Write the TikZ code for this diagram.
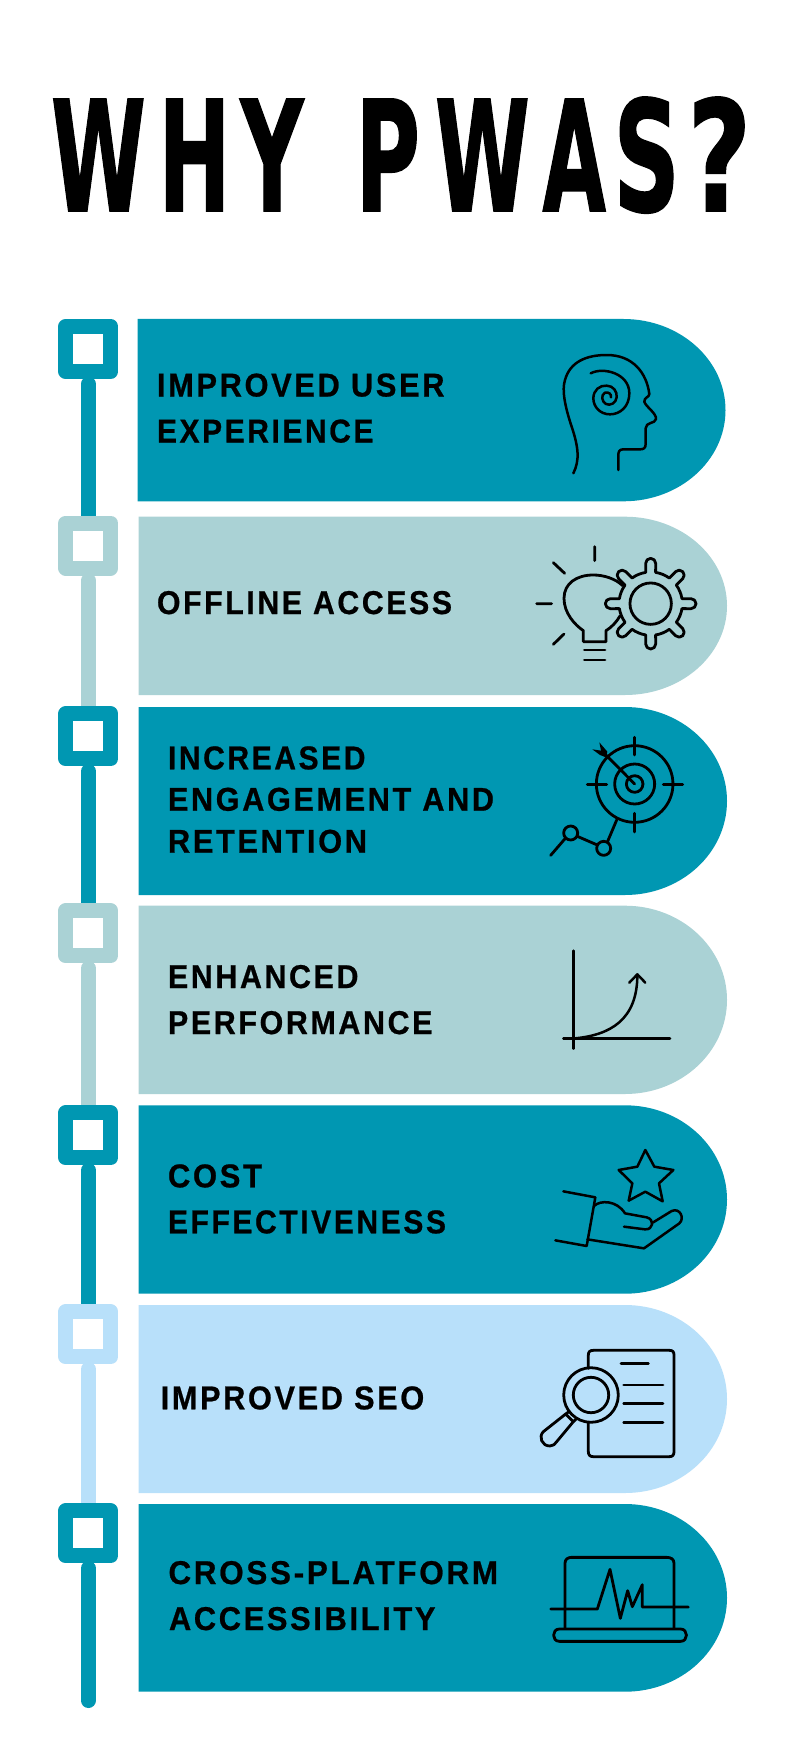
\documentclass[tikz,border=0pt]{standalone}
\usepackage{fontspec}
\usetikzlibrary{backgrounds}
\newfontfamily\titlefont[FakeBold=1.2]{DejaVu Sans}
\newfontfamily\lblfont[LetterSpace=8,FakeStretch=0.92,FakeBold=0.7]{Liberation Sans}
\definecolor{teal}{HTML}{0097B2}
\definecolor{pale}{HTML}{AAD2D5}
\definecolor{sky}{HTML}{B8E0FA}
\newcommand\tl[3]{\makebox[0pt][l]{\kern#1pt\scalebox{#2}[1.536]{#3}}}
\newcommand\panel[5]{%
  \pgfmathsetmacro\ry{(#4-#3)/2}
  \fill[#1] (#2,#3) -- (#5-102,#3) arc[start angle=90,end angle=-90,x radius=102pt,y radius=\ry pt] -- (#2,#4) -- cycle;}
\newcommand\lbl[5]{\node[lbl] (#1) at (#2,#3) {\resizebox{#4pt}{\height}{#5}};}
\newcommand\gearsector{%
  \draw[gearline] (-22.5:95pt) arc[start angle=-22.5,end angle=-9,radius=95pt] -- (121pt,-15pt)
    arc[start angle=-90,end angle=90,radius=15pt] -- (9:95pt) arc[start angle=9,end angle=22.5,radius=95pt];}
\tikzset{
  marker/.style={draw=#1,fill=white,line width=15pt,line join=round,minimum size=45pt,inner sep=0pt,shape=rectangle},
  stemline/.style={draw=#1,line width=15pt,line cap=round},
  lbl/.style={anchor=base west,inner sep=0pt,outer sep=0pt,text=black,font=\lblfont\bfseries\fontsize{33pt}{33pt}\selectfont},
  icon/.style={draw=black,line width=2.5pt,line cap=round,line join=round},
  iconb/.style={draw=black,line width=2.8pt,line cap=round,line join=round},
  gearline/.style={draw=black,line width=2.8pt,line cap=round,line join=round},
  zoomgrid/.style={x=0.33333pt,y=-0.33333pt},
}
\begin{document}
\begin{tikzpicture}[x=1pt,y=-1pt]
\useasboundingbox (0,0) rectangle (800,1760);
% title
\node[inner sep=0pt,outer sep=0pt,anchor=base west] (title) at (0,211) {\titlefont\bfseries\fontsize{100pt}{100pt}\selectfont
  \tl{50.5}{.86}{W}\tl{158}{.86}{H}\tl{240}{.87}{Y}\makebox[0pt]{ }\tl{355}{.88}{P}\tl{434.5}{.86}{W}\tl{542}{.82}{A}\tl{613}{.92}{S}\tl{687}{1.1}{?}};
% panels
\panel{teal}{137.7}{319}{501.3}{725.5}
\panel{pale}{138.5}{516.7}{695}{727}
\panel{teal}{138.7}{707}{895}{727}
\panel{pale}{138.7}{905.7}{1094}{727}
\panel{teal}{138.7}{1105.3}{1293.7}{727}
\panel{sky}{138.7}{1305}{1493}{727}
\panel{teal}{138.7}{1504}{1691.7}{727}
% markers
\node[marker=teal] (b1) at (88.3,349) {};
\node[marker=pale] (b2) at (88.3,545.5) {};
\node[marker=teal] (b3) at (88.3,736.3) {};
\node[marker=pale] (b4) at (88.3,933.3) {};
\node[marker=teal] (b5) at (88.3,1135.3) {};
\node[marker=sky] (b6) at (88.3,1334.3) {};
\node[marker=teal] (b7) at (88.3,1533.3) {};
\coordinate (stemend) at (88.3,1700.5);
\begin{scope}[on background layer]
  \fill[white] (0,0) rectangle (800,1760);
  \draw[stemline=teal] ([yshift=-5pt]b1.south) -- (b2.north);
  \draw[stemline=pale] ([yshift=-5pt]b2.south) -- (b3.north);
  \draw[stemline=teal] ([yshift=-5pt]b3.south) -- (b4.north);
  \draw[stemline=pale] ([yshift=-5pt]b4.south) -- (b5.north);
  \draw[stemline=teal] ([yshift=-5pt]b5.south) -- (b6.north);
  \draw[stemline=sky] ([yshift=-5pt]b6.south) -- (b7.north);
  \draw[stemline=teal] ([yshift=-5pt]b7.south) -- (stemend);
\end{scope}
% labels
\lbl{t1a}{157}{396.5}{287.5}{IMPROVED USER}
\lbl{t1b}{157}{442.5}{216.5}{EXPERIENCE}
\lbl{t2}{157}{614}{295}{OFFLINE ACCESS}
\lbl{t3a}{168}{769.3}{197.5}{INCREASED}
\lbl{t3b}{168}{810.7}{326}{ENGAGEMENT AND}
\lbl{t3c}{168}{852.7}{199}{RETENTION}
\lbl{t4a}{168}{988}{190.5}{ENHANCED}
\lbl{t4b}{168}{1034}{264.5}{PERFORMANCE}
\lbl{t5a}{168}{1187.3}{94}{COST}
\lbl{t5b}{168}{1233.3}{278}{EFFECTIVENESS}
\lbl{t6}{160.7}{1409.3}{263.5}{IMPROVED SEO}
\lbl{t7a}{168.5}{1584}{329.5}{CROSS-PLATFORM}
\lbl{t7b}{169}{1630}{266.5}{ACCESSIBILITY}
% head + bulb/gear icons
\begin{scope}[shift={(500,320)},zoomgrid]
  \draw[icon] (220,460) .. controls (240,420) and (235,380) .. (215,320) .. controls (195,260) and (185,210) .. (195,180) .. controls (210,125) and (260,105) .. (320,105) .. controls (400,105) and (440,160) .. (448,222) .. controls (448,232) and (432,232) .. (433,245) .. controls (437,260) and (470,280) .. (468,297) .. controls (466,312) and (437,305) .. (437,325) -- (437,372) .. controls (437,385) and (430,388) .. (420,388) -- (370,388) .. controls (358,388) and (355,395) .. (355,405) -- (355,450);
  \draw[icon] (272,160) .. controls (310,140) and (388,160) .. (388,220) .. controls (388,260) and (360,283) .. (330,283) .. controls (300,283) and (280,260) .. (280,235) .. controls (280,210) and (300,195) .. (320,197) .. controls (340,197) and (352,215) .. (350,232) .. controls (348,250) and (330,258) .. (318,252) .. controls (305,245) and (302,225) .. (315,218) .. controls (325,215) and (335,222) .. (333,232);
  \draw[iconb] (284,680) -- (284,722) (160,728) -- (194,760) (110,851) -- (155,851) (160,973) -- (192,942);
  \draw[iconb] (368,797) .. controls (345,775) and (310,765) .. (280,765) .. controls (230,765) and (192,790) .. (192,835) .. controls (192,880) and (225,915) .. (250,932) -- (250,965) -- (318,965) -- (318,932) .. controls (335,922) and (350,905) .. (360,888);
  \draw[iconb] (253,990) -- (315,990) (253,1020) -- (315,1020);
  \draw[iconb] (452,851) circle[radius=20.7pt];
\end{scope}
\begin{scope}[shift={(650.67,603.67)},x=1pt,y=1pt,scale=0.33333]
  \foreach \a in {0,45,...,315}{\begin{scope}[rotate=\a]\gearsector\end{scope}}
\end{scope}
% target + chart icons
\begin{scope}[shift={(500,710)},zoomgrid]
  \draw[iconb] (404,222) circle[radius=38.3pt] (404,222) circle[radius=20pt] (404,222) circle[radius=8.3pt];
  \draw[iconb] (404,82) -- (404,135) (404,310) -- (404,366) (262,224) -- (320,224) (490,224) -- (548,224);
  \draw[iconb] (404,222) -- (318,135);
  \fill (298,97) -- (322,125) -- (318,142) -- (300,135) -- (277,118) -- (303,122) -- cycle;
  \draw[iconb] (152,436) -- (196,385) (232,379) -- (292,405) (323,394) -- (350,330);
  \draw[iconb] (212,369) circle[radius=7pt] (311,415) circle[radius=7pt];
  \draw[icon] (220,722) -- (220,1016) (190,985) -- (510,985);
  \draw[icon] (225,985) .. controls (330,975) and (412,930) .. (412,795);
  \draw[icon] (388,818) -- (412,793) -- (436,818);
\end{scope}
% hand + magnifier icons
\begin{scope}[shift={(500,1120)},zoomgrid]
  \draw[icon] (436,90) -- (463,140) -- (520,150) -- (477,190) -- (488,244) -- (436,215) -- (386,242) -- (397,190) -- (356,150) -- (412,140) -- cycle;
  \draw[icon] (190,214) -- (286,232) -- (260,378) -- (166,361);
  \draw[icon] (262,358) -- (432,385) -- (538,310) .. controls (555,295) and (540,262) .. (515,273) -- (458,308);
  \draw[icon] (282,258) .. controls (300,240) and (350,240) .. (375,280) -- (440,292) .. controls (465,298) and (460,330) .. (435,328) -- (372,320);
  \draw[iconb] (265,745) -- (265,705) .. controls (265,695) and (270,691) .. (280,691) -- (508,691) .. controls (518,691) and (522,695) .. (522,705) -- (522,995) .. controls (522,1005) and (518,1010) .. (508,1010) -- (280,1010) .. controls (270,1010) and (265,1005) .. (265,995) -- (265,908);
  \draw[iconb] (363,731) -- (445,731) (371,795) -- (489,795) (371,851) -- (489,851) (371,907) -- (489,907);
  \draw[iconb] (273,825) circle[radius=27.3pt] (273,825) circle[radius=17.7pt];
  \draw[iconb] (197,882) -- (130,935) .. controls (115,950) and (125,978) .. (150,978) .. controls (160,978) and (165,972) .. (170,965) -- (220,905) -- cycle;
  \draw[iconb] (207,875) -- (197,882) (228,897) -- (220,905);
\end{scope}
% laptop icon
\begin{scope}[shift={(500,1480)},zoomgrid]
  \draw[iconb] (195,445) -- (195,250) .. controls (195,238) and (203,232) .. (215,232) -- (500,232) .. controls (514,232) and (522,238) .. (522,250) -- (522,445);
  \draw[iconb] (178,447) -- (542,447) .. controls (565,447) and (565,484) .. (542,484) -- (178,484) .. controls (155,484) and (155,447) .. (178,447) -- cycle;
  \draw[iconb] (152,387) -- (292,387) -- (330,268) -- (361,415) -- (383,332) -- (397,380) -- (427,314) -- (427,381) -- (565,381);
\end{scope}
\end{tikzpicture}
\end{document}
